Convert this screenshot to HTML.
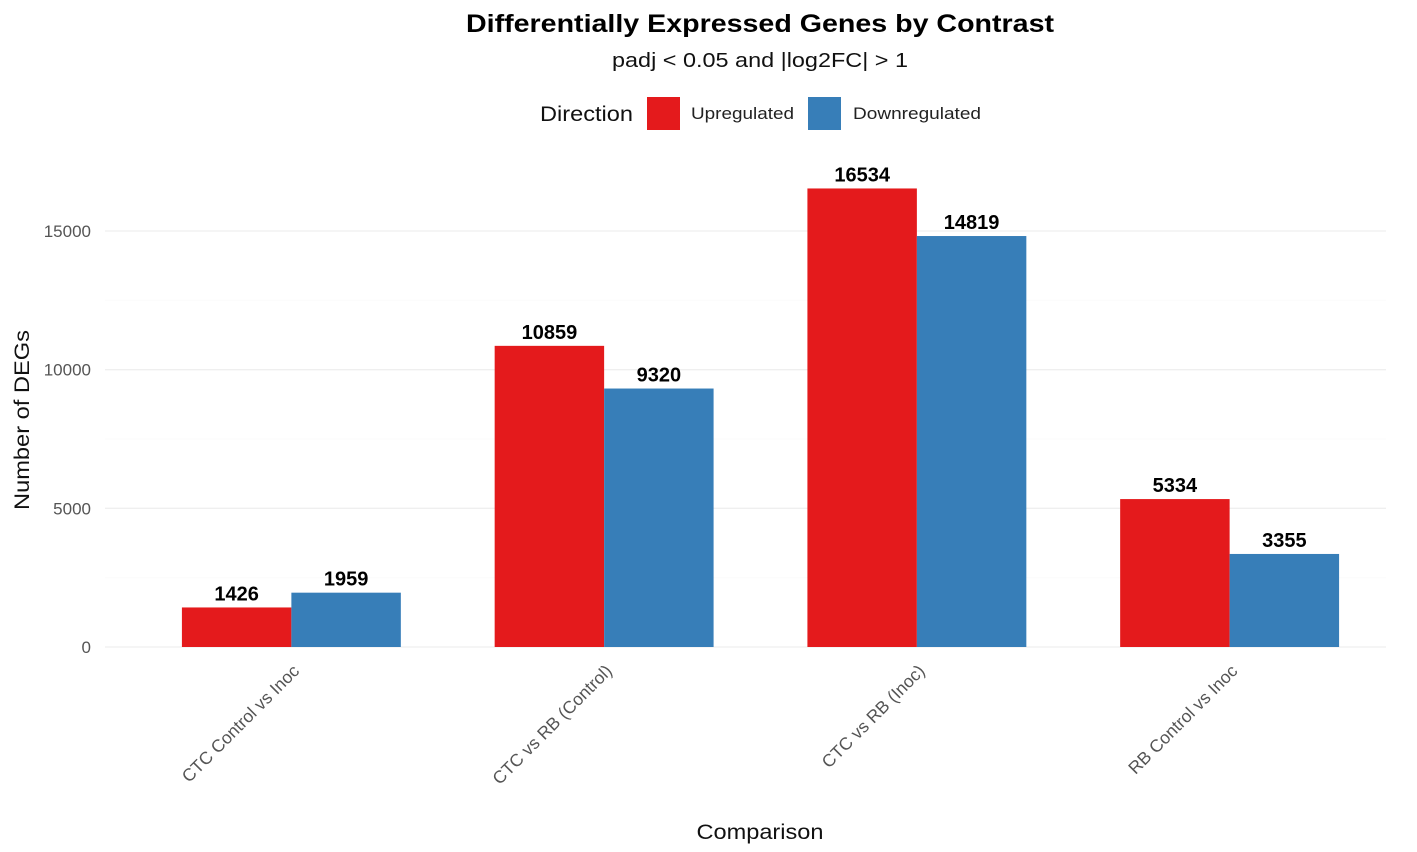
<!DOCTYPE html>
<html><head><meta charset="utf-8"><style>
html,body{margin:0;padding:0;background:#fff;}
svg{display:block;font-family:"Liberation Sans",Arial,sans-serif;}
</style></head><body>
<svg id="chart" width="1417" height="852">
<text x="760" y="32" text-anchor="middle" font-size="25" font-weight="bold" fill="#000" textLength="588" lengthAdjust="spacingAndGlyphs">Differentially Expressed Genes by Contrast</text>
<text x="760" y="67" text-anchor="middle" font-size="20" fill="#111" textLength="296" lengthAdjust="spacingAndGlyphs">padj &lt; 0.05 and |log2FC| &gt; 1</text>
<g>
<text x="540" y="121" font-size="21" fill="#111" textLength="93" lengthAdjust="spacingAndGlyphs">Direction</text>
<rect x="647" y="97" width="33" height="33" fill="#E41A1C"/>
<text x="691" y="119" font-size="17" fill="#222" textLength="103" lengthAdjust="spacingAndGlyphs">Upregulated</text>
<rect x="808" y="97" width="33" height="33" fill="#377EB8"/>
<text x="853" y="119" font-size="17" fill="#222" textLength="128" lengthAdjust="spacingAndGlyphs">Downregulated</text>
</g>
<g id="grid"></g>
<g id="bars"></g>
<g id="labels"></g>
<text transform="translate(29,420) rotate(-90)" text-anchor="middle" font-size="21" fill="#111" textLength="180" lengthAdjust="spacingAndGlyphs">Number of DEGs</text>
<text x="760" y="839" text-anchor="middle" font-size="21" fill="#111" textLength="127" lengthAdjust="spacingAndGlyphs">Comparison</text>
</svg>
<script>
const categories = ["CTC Control vs Inoc","CTC vs RB (Control)","CTC vs RB (Inoc)","RB Control vs Inoc"];
const upValues = [1426,10859,16534,5334];
const downValues = [1959,9320,14819,3355];
const yTicks = [0,5000,10000,15000];
const yMinor = [2500,7500,12500];
const NS="http://www.w3.org/2000/svg";
const x0=135, x1=1386, y0=647, pxPer=0.027733;
const band=(x1-x0)/categories.length;
const xc=i=>x0+band*(i+0.5);
const y=v=>y0-v*pxPer;
const bw=band*0.35;
function mk(tag,attrs,parent){const e=document.createElementNS(NS,tag);for(const k in attrs)e.setAttribute(k,attrs[k]);document.getElementById(parent).appendChild(e);return e;}
yMinor.forEach(t=>{
  const l=mk('line',{x1:x0-30,x2:x1,y1:y(t),y2:y(t),stroke:'#fbfbfb','stroke-width':1},'grid');
  
  
});
yTicks.forEach(t=>{
  const l=mk('line',{x1:x0-30,x2:x1,y1:y(t),y2:y(t),stroke:'#efefef','stroke-width':1.3},'grid');
  
  
  const tx=mk('text',{x:91,y:y(t)+6,'text-anchor':'end','font-size':17,fill:'#555'},'grid');
  tx.textContent=t;
  
  
});
categories.forEach((c,i)=>{
  [[upValues[i],'#E41A1C',-1,'up'],[downValues[i],'#377EB8',0,'down']].forEach(([v,col,off,nm])=>{
    const bx=xc(i)+off*bw;
    const r=mk('rect',{x:bx,y:y(v),width:bw,height:v*pxPer,fill:col},'bars');
    
    
    const t=mk('text',{x:bx+bw/2,y:y(v)-7,'text-anchor':'middle','font-size':20,'font-weight':'bold',fill:'#000'},'labels');
    t.textContent=v;
    
    
  });
  const xl=mk('text',{transform:`translate(${xc(i)+9},${672}) rotate(-45)`,'text-anchor':'end','font-size':17.5,fill:'#555'},'labels');
  xl.textContent=c;
  
  
});
</script>
</body></html>
